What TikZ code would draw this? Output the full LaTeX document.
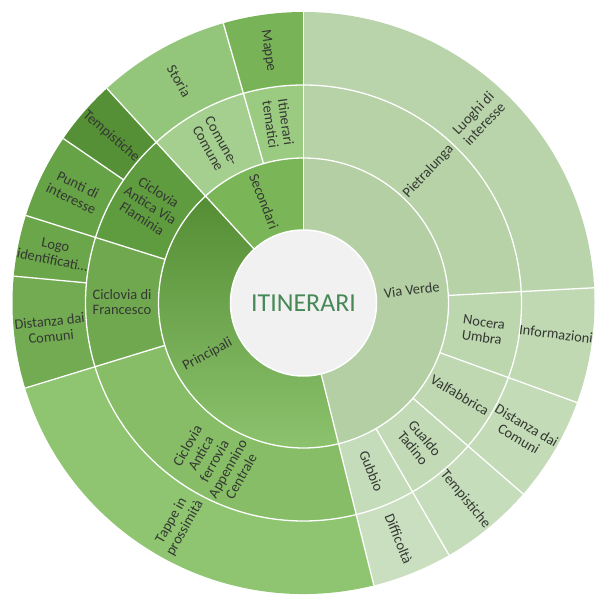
\documentclass[tikz,border=0pt]{standalone}
\usepackage{fontspec}
\setmainfont{Carlito}
\definecolor{viaverde}{HTML}{B3CFA3}
\definecolor{pietra}{HTML}{B6D2A6}
\definecolor{luoghi}{HTML}{B9D4AA}
\definecolor{nocera}{HTML}{BCD6AE}
\definecolor{info}{HTML}{C0D9B3}
\definecolor{valfa}{HTML}{BFD8B2}
\definecolor{distvv}{HTML}{C3DBB7}
\definecolor{gualdo}{HTML}{C2DAB6}
\definecolor{tempvv}{HTML}{C6DDBB}
\definecolor{gubbio}{HTML}{C5DCBA}
\definecolor{diffic}{HTML}{C9DFBF}
\definecolor{printop}{HTML}{548D34}
\definecolor{prinbot}{HTML}{8EC46F}
\definecolor{appenn}{HTML}{86BD66}
\definecolor{tappe}{HTML}{8FC570}
\definecolor{franc}{HTML}{70A850}
\definecolor{distpr}{HTML}{72AB52}
\definecolor{logo}{HTML}{6BA64B}
\definecolor{flamin}{HTML}{5F9B3F}
\definecolor{punti}{HTML}{66A246}
\definecolor{temppr}{HTML}{558F36}
\definecolor{second}{HTML}{7AB658}
\definecolor{comune}{HTML}{A5CF8E}
\definecolor{itin}{HTML}{9BCA81}
\definecolor{storia}{HTML}{93C67A}
\definecolor{mappe}{HTML}{78B457}
\definecolor{txt}{HTML}{343832}
\definecolor{titolo}{HTML}{478857}
\definecolor{centro}{HTML}{F1F1F1}
\begin{document}
\begin{tikzpicture}[x=1bp,y=1bp,
  lbl/.style={text=txt, align=center, inner sep=0pt, font=\fontsize{14.5}{15.5}\selectfont},
  sep/.style={draw=white, line width=1.3bp}]

\useasboundingbox (-303.5,-293) rectangle (292.5,303);

% ring 1, 2, 3 sectors (radius in, radius out, from, to, colour)
\foreach \ri/\ro/\ai/\af/\col in {73/145/90/-76/viaverde, 73/145/132.5/90/second,
  145/218/90/3/pietra, 145/218/3/-20/nocera, 145/218/-20/-41/valfa, 145/218/-41/-60/gualdo, 145/218/-60/-76/gubbio,
  145/218/284/197/appenn, 145/218/197/162.5/franc, 145/218/162.5/132.5/flamin, 145/218/132.5/106/comune, 145/218/106/90/itin,
  218/291/90/3/luoghi, 218/291/3/-20/info, 218/291/-20/-41/distvv, 218/291/-41/-60/tempvv, 218/291/-60/-76/diffic,
  218/291/284/197/tappe, 218/291/197/174.7/distpr, 218/291/174.7/162.5/logo, 218/291/162.5/145.6/punti, 218/291/145.6/132.5/temppr,
  218/291/132.5/106/storia, 218/291/106/90/mappe}
  \fill[\col] (\ai:\ri) arc[start angle=\ai, end angle=\af, radius=\ri] -- (\af:\ro) arc[start angle=\af, end angle=\ai, radius=\ro] -- cycle;

\shade[top color=printop, bottom color=prinbot] (284:73) arc[start angle=284, end angle=132.5, radius=73] -- (132.5:145) arc[start angle=132.5, end angle=284, radius=145] -- cycle; %Principali

% white separators
\draw[sep] (0,0) circle (145) (0,0) circle (218);
\foreach \a in {90,-76,132.5} \draw[sep] (\a:73) -- (\a:291);
\foreach \a in {3,-20,-41,-60,197,162.5,106} \draw[sep] (\a:145) -- (\a:291);
\foreach \a in {174.7,145.6} \draw[sep] (\a:218) -- (\a:291);

\filldraw[fill=centro, draw=white, line width=1.5bp] (0,0) circle (73);
\node[text=titolo, font=\fontsize{26}{30}\selectfont] (itinerari) at (0,0) {ITINERARI};

% Via Verde
\node[lbl, rotate=7] (viaverde) at (7:109) {Via Verde};
\node[lbl, rotate=46.5] (pietralunga) at (46.5:181.5) {Pietralunga};
\node[lbl, rotate=46.5] (luoghi) at (46.5:254.5) {Luoghi di\\interesse};
\node[lbl, rotate=-8.5] (nocera) at (-8.5:181.5) {Nocera\\Umbra};
\node[lbl, rotate=-7] (informazioni) at (-7:254.5) {Informazioni};
\node[lbl, rotate=-30.5] (valfabbrica) at (-30.5:181.5) {Valfabbrica};
\node[lbl, rotate=-30.5] (distanzavv) at (-30.5:254.5) {Distanza dai\\Comuni};
\node[lbl, rotate=-50.5] (gualdo) at (-50.5:181.5) {Gualdo\\Tadino};
\node[lbl, rotate=-50.5] (tempistichevv) at (-50.5:254.5) {Tempistiche};
\node[lbl, rotate=-68] (gubbio) at (-68:181.5) {Gubbio};
\node[lbl, rotate=-68] (difficolta) at (-68:254.5) {Difficoltà};

% Principali
\node[lbl, rotate=28.25] (principali) at (208.25:109) {Principali};
\node[lbl, rotate=60.5] (appennino) at (240.5:181.5) {Ciclovia\\Antica\\ferrovia\\Appennino\\Centrale};
\node[lbl, rotate=60.5] (tappe) at (240.5:254.5) {Tappe in\\prossimità};
\node[lbl, rotate=-0.25] (francesco) at (179.75:181.5) {Ciclovia di\\Francesco};
\node[lbl, rotate=5.85] (distanzapr) at (185.85:254.5) {Distanza dai\\Comuni};
\node[lbl, rotate=-11.4] (logo) at (168.6:254.5) {Logo\\identificati…};
\node[lbl, rotate=-32.5] (flaminia) at (147.5:181.5) {Ciclovia\\Antica Via\\Flaminia};
\node[lbl, rotate=-25.95] (punti) at (154.05:254.5) {Punti di\\interesse};
\node[lbl, rotate=-40.95] (tempistichepr) at (139.05:254.5) {Tempistiche};

% Secondari
\node[lbl, rotate=-68.75] (secondari) at (111.25:109) {Secondari};
\node[lbl, rotate=-60.75] (comune) at (119.25:181.5) {Comune-\\Comune};
\node[lbl, rotate=-60.75] (storia) at (119.25:254.5) {Storia};
\node[lbl, rotate=-82] (tematici) at (98:181.5) {Itinerari\\tematici};
\node[lbl, rotate=-82] (mappe) at (98:254.5) {Mappe};

\end{tikzpicture}
\end{document}
